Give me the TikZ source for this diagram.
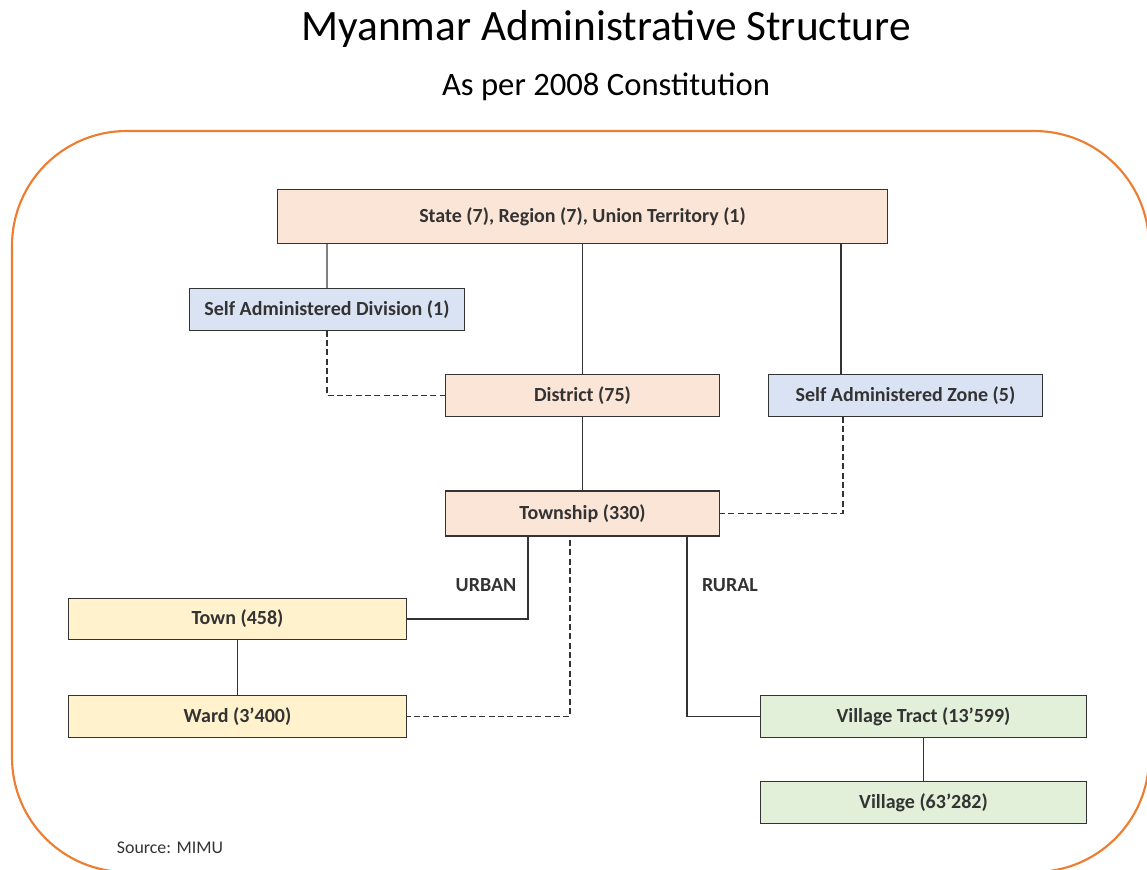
\documentclass[tikz,border=0pt]{standalone}
\usepackage{fontspec}
\setmainfont{Carlito}
\usepackage{xcolor}
\usepackage{tikz}
\usetikzlibrary{positioning,shapes}

\definecolor{peach}{HTML}{FBE5D6}
\definecolor{paleblue}{HTML}{DAE3F3}
\definecolor{paleyellow}{HTML}{FFF2CC}
\definecolor{palegreen}{HTML}{E2F0D9}
\definecolor{frameorange}{HTML}{ED7D31}
\definecolor{linegray}{HTML}{333333}

\begin{document}
\begin{tikzpicture}[x=0.75pt,y=-0.75pt,
  every node/.style={font=\bfseries\fontsize{15}{18}\selectfont,text=linegray},
  unit/.style={rectangle,draw=linegray,line width=0.9pt,minimum width=206pt,minimum height=31pt},
  link/.style={draw=linegray,line width=0.9pt},
  weak/.style={link,dash pattern=on 4.5pt off 2.5pt}]
  \useasboundingbox (0,0) rectangle (1147,869);
  % frame
  \begin{scope}
    \clip (0,0) rectangle (1147,869);
    \draw[frameorange,line width=1.6pt,rounded corners=86pt] (12,131) rectangle (1149,872);
  \end{scope}
  % titles
  \node[font=\fontsize{32.5}{36}\selectfont,text=black] (title) at (606,29) {Myanmar Administrative Structure};
  \node[font=\fontsize{24.5}{28}\selectfont,text=black] (subtitle) at (606,87) {As per 2008 Constitution};
  % units
  \node[unit,fill=peach,minimum width=458pt,minimum height=41pt] (state) at (582.5,216.5) {State (7), Region (7), Union Territory (1)};
  \node[unit,fill=paleblue] (sad) at (327,309.5) {Self Administered Division (1)};
  \node[unit,fill=peach] (district) at (582.5,395.5) {District (75)};
  \node[unit,fill=paleblue] (saz) at (905.5,395.5) {Self Administered Zone (5)};
  \node[unit,fill=peach,minimum height=33.75pt] (township) at (582.5,513.5) {Township (330)};
  \node[unit,fill=paleyellow,minimum width=254pt] (town) at (237.5,619) {Town (458)};
  \node[unit,fill=paleyellow,minimum width=254pt] (ward) at (237.5,716.5) {Ward (3’400)};
  \node[unit,fill=palegreen,minimum width=244pt] (tract) at (923.5,716.5) {Village Tract (13’599)};
  \node[unit,fill=palegreen,minimum width=244pt] (village) at (923.5,802.5) {Village (63’282)};
  % labels
  \node (urban) at (486,585) {URBAN};
  \node (rural) at (730,585) {RURAL};
  \node[font=\fontsize{13.4}{15}\selectfont] (source) at (170,848) {Source: MIMU};
  % connectors
  \draw[link,draw=gray] (sad.north) -- (sad.north |- state.south);
  \draw[link] (state.south) -- (district.north);
  \draw[link] (saz.north -| 841,0) -- (state.south -| 841,0);
  \draw[weak] (sad.south) |- (district.west);
  \draw[link] (district.south) -- (township.north);
  \draw[weak] (saz.south -| 843,0) |- (township.east);
  \draw[link] (township.south -| 528,0) |- (town.east);
  \coordinate (wardfoot) at (570,540);
  \draw[weak] (wardfoot) |- (ward.east);
  \draw[link] (township.south -| 687,0) |- (tract.west);
  \draw[link] (town.south) -- (ward.north);
  \draw[link] (tract.south) -- (village.north);
\end{tikzpicture}
\end{document}
